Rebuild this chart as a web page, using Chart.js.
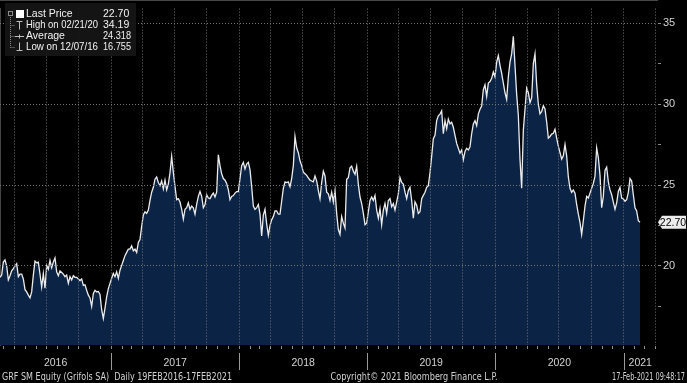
<!DOCTYPE html>
<html>
<head>
<meta charset="utf-8">
<script src="https://cdn.jsdelivr.net/npm/chart.js@4.4.1/dist/chart.umd.min.js"></script>
<style>
  html, body { margin: 0; padding: 0; background: #000; }
  #chart { display: block; }
</style>
</head>
<body>
<canvas id="chart" width="687" height="383"></canvas>
<script>
// GRF SM Equity, daily close (evenly spaced samples)
const startDate = Date.UTC(2016, 1, 19);
const endDate = Date.UTC(2021, 1, 17);

const prices = [
  // 2016
  19.30, 19.44, 20.24, 20.38, 20.0, 19.14, 19.4, 19.7, 19.84, 20.0,
  20.14, 19.34, 19.5, 19.5, 19.2, 18.54, 18.4, 18.2, 18.03, 18.4,
  19.44, 20.3, 20.2, 20.24, 19.5, 18.7, 19.54, 18.63, 20.04, 19.8,
  20.34, 19.9, 20.24, 20.5, 19.64, 19.4, 19.7, 19.6, 19.5, 19.34,
  19.44, 18.93, 19.34, 19.14, 19.4, 19.3, 19.3, 19.2, 19.1, 19.2,
  18.8, 18.84, 18.5, 18.2, 18.03, 17.5, 18.3, 18.5, 18.4, 18.43,
  18.24, 17.3, 16.76,
  // 2017
  17.4, 18.1, 18.6, 18.93, 19.24, 19.54, 19.34, 19.64, 19.24, 19.74,
  20.04, 20.34, 20.64, 20.84, 21.04, 21.04, 21.24, 20.94, 21.04, 20.84,
  21.45, 21.64, 22.45, 23.15, 23.35, 23.25, 23.45, 24.05, 24.56, 24.86,
  25.36, 25.5, 25.16, 24.96, 25.26, 24.76, 25.3, 24.7, 25.06, 25.76,
  26.77, 25.8, 24.9, 24.1, 24.16, 23.95, 23.5, 22.9, 23.5, 23.6,
  23.9, 23.5, 23.7, 23.6, 23.2, 23.8, 24.3, 24.6, 24.3, 23.6,
  23.8, 24.4, 24.2,
  // 2018
  24.16, 24.36, 24.5, 24.26, 24.56, 26.87, 26.2, 25.7, 25.4, 25.3,
  25.1, 24.7, 24.1, 24.3, 24.35, 24.5, 24.6, 24.6, 25.4, 26.2,
  26.4, 26.0, 26.3, 26.4, 25.95, 24.9, 23.7, 23.5, 23.6, 23.8,
  23.2, 21.85, 23.15, 23.5, 22.6, 21.9, 22.5, 22.85, 23.05, 23.4,
  23.4, 23.2, 23.2, 24.0, 24.8, 25.2, 25.15, 25.2, 24.9, 25.4,
  26.2, 28.0, 27.3, 27.0, 26.5, 26.2, 25.8, 25.7, 25.6, 25.45,
  25.3, 25.25, 25.2,
  // 2019
  25.56, 25.26, 24.66, 24.16, 25.16, 25.86, 25.56, 24.56, 24.46, 24.05,
  24.56, 23.96, 24.66, 23.25, 22.25, 21.95, 23.05, 22.65, 22.35, 25.36,
  25.46, 26.06, 26.16, 25.86, 25.66, 26.16, 25.06, 24.26, 23.86, 23.25,
  22.55, 22.65, 23.35, 24.05, 24.26, 24.05, 24.36, 23.45, 22.95, 23.55,
  22.55, 23.45, 23.86, 23.25, 24.05, 24.16, 23.66, 23.86, 23.45, 23.96,
  24.46, 25.46, 25.16, 25.06, 24.56, 24.16, 24.66, 24.86, 24.05, 22.95,
  23.96, 23.75, 23.25,
  // 2019-2020
  23.35, 24.16, 24.36, 24.56, 24.86, 24.96, 25.76, 26.77, 27.87, 28.07,
  28.98, 29.28, 29.38, 29.58, 28.17, 28.98, 28.48, 29.08, 28.78, 28.88,
  28.57, 28.07, 27.57, 27.27, 26.97, 27.17, 26.57, 27.07, 27.27, 27.17,
  27.37, 28.17, 28.78, 28.98, 28.67, 29.38, 29.68, 29.88, 30.89, 31.19,
  30.48, 31.3, 31.39, 31.59, 31.99, 31.69, 32.59, 33.0, 32.4, 31.9,
  31.3, 30.7, 30.29, 31.69, 32.59, 33.1, 34.19, 32.4, 30.6, 29.3,
  26.6, 24.8, 28.4,
  // 2020-2021
  29.68, 30.99, 30.7, 30.09, 30.39, 32.5, 33.1, 31.2, 30.0, 29.4,
  29.55, 29.9, 29.7, 28.9, 27.9, 28.0, 28.15, 28.2, 28.45, 27.9,
  27.4, 27.0, 26.6, 26.8, 27.5, 26.8, 25.5, 24.8, 24.55, 24.7,
  24.5, 23.8, 23.2, 22.7, 21.95, 22.8, 23.7, 24.3, 24.2, 24.5,
  24.8, 25.1, 25.55, 27.3, 26.7, 25.6, 23.6, 24.3, 25.9, 26.1,
  25.2, 24.7, 24.4, 23.95, 23.5, 23.9, 24.6, 24.85, 24.2, 24.15,
  24.0, 24.1, 24.55, 25.4, 25.25, 24.4, 23.6, 23.4, 22.8, 22.70
];

const priceTicks = [17.5, 20, 22.5, 25, 27.5, 30, 32.5, 35];
const yearLabels = ['2016', '2017', '2018', '2019', '2020', '2021'];
const legendLabels = ['Last Price', 'High on 02/21/20', 'Average', 'Low on 12/07/16'];
const legendValues = ['22.70', '34.19', '24.318', '16.755'];
const lastPrice = 22.70;
const footerLeft = 'GRF SM Equity (Grifols SA)  Daily 19FEB2016-17FEB2021';
const footerMid = 'Copyright\u00A9 2021 Bloomberg Finance L.P.';
const footerRight = '17-Feb-2021 09:48:17';

const FONT = '"Liberation Sans", Arial, sans-serif';
const NARROW = '"Liberation Sans Narrow", "DejaVu Sans Condensed", "Liberation Sans", sans-serif';
const TXT = '#d2d2d2';
const GRID = '#737373';

// x scale runs a little past the last close, like the terminal does
const xMax = startDate + (endDate - startDate) * 657 / 640;
const step = (endDate - startDate) / (prices.length - 1);
const points = prices.map((p, i) => ({ x: startDate + i * step, y: p }));

// monthly tick marks, dotted grid only on quarter starts
const monthTicks = [];
const quarterSet = new Set();
for (let y = 2016; y <= 2021; y++) {
  for (let m = 0; m < 12; m++) {
    const t = Date.UTC(y, m, 1);
    if (t > startDate && t < xMax) {
      monthTicks.push(t);
      if (m % 3 === 0) quarterSet.add(t);
    }
  }
}

const overlay = {
  id: 'overlay',
  afterDraw(chart) {
    const ctx = chart.ctx;
    const xs = chart.scales.x, ys = chart.scales.y;
    const area = chart.chartArea;
    ctx.save();

    // year labels + separators
    ctx.font = '10.5px ' + FONT;
    ctx.fillStyle = TXT;
    ctx.textAlign = 'center';
    ctx.textBaseline = 'middle';
    yearLabels.forEach((lab, i) => {
      const yr = +lab;
      const a = Math.max(startDate, Date.UTC(yr, 0, 1));
      const b = Math.min(xMax, Date.UTC(yr + 1, 0, 1));
      const pa = xs.getPixelForValue(a), pb = xs.getPixelForValue(b);
      ctx.fillText(lab, (pa + pb) / 2, 363);
      if (i > 0) {
        const sx = Math.round(pa) + 0.5;
        ctx.strokeStyle = '#9a9a9a';
        ctx.lineWidth = 1;
        ctx.beginPath();
        ctx.moveTo(sx, 353);
        ctx.lineTo(sx, 370);
        ctx.stroke();
      }
    });

    // footer
    ctx.font = '10.5px ' + NARROW;
    ctx.textAlign = 'left';
    ctx.fillText(footerLeft, 2, 377, 230);
    ctx.textAlign = 'center';
    ctx.fillText(footerMid, 414, 377, 167);
    ctx.textAlign = 'right';
    ctx.fillText(footerRight, 685, 377, 73);

    // last price tag on the axis
    const py = ys.getPixelForValue(lastPrice);
    const bx = area.right + 1;
    ctx.fillStyle = '#ececec';
    ctx.beginPath();
    ctx.moveTo(bx, py);
    ctx.lineTo(bx + 4, py - 6.5);
    ctx.lineTo(686, py - 6.5);
    ctx.lineTo(686, py + 6.5);
    ctx.lineTo(bx + 4, py + 6.5);
    ctx.closePath();
    ctx.fill();
    ctx.fillStyle = '#000';
    ctx.font = '10.5px ' + FONT;
    ctx.textAlign = 'center';
    ctx.fillText(lastPrice.toFixed(2), 673, py + 0.5);

    // legend box
    ctx.fillStyle = 'rgba(22,22,22,0.92)';
    ctx.fillRect(5, 3, 131, 53);
    const rows = [14, 25, 36, 47];
    ctx.strokeStyle = '#8a8a8a';
    ctx.setLineDash([1, 1]);
    ctx.beginPath();
    ctx.moveTo(10.5, 17); ctx.lineTo(10.5, 47.5);
    rows.slice(1).forEach(r => { ctx.moveTo(10.5, r + 0.5); ctx.lineTo(15, r + 0.5); });
    ctx.stroke();
    ctx.setLineDash([]);
    ctx.strokeRect(8.5, 11.5, 4, 4);

    ctx.fillStyle = '#ffffff';
    ctx.fillRect(16, 10, 8, 8);
    ctx.strokeStyle = '#bdbdbd';
    ctx.beginPath();
    ctx.moveTo(16.5, 21.5); ctx.lineTo(22.5, 21.5);
    ctx.moveTo(19.5, 21.5); ctx.lineTo(19.5, 29.5);
    ctx.moveTo(15, 36.5); ctx.lineTo(24, 36.5);
    ctx.moveTo(19.5, 34.5); ctx.lineTo(19.5, 38.5);
    ctx.moveTo(19.5, 42.5); ctx.lineTo(19.5, 50.5);
    ctx.moveTo(16.5, 50.5); ctx.lineTo(22.5, 50.5);
    ctx.stroke();

    ctx.font = '10.5px ' + FONT;
    ctx.textAlign = 'left';
    ctx.textBaseline = 'middle';
    ctx.fillStyle = '#f2f2f2';
    legendLabels.forEach((lab, i) => {
      ctx.fillText(lab, 26, rows[i] + 0.5, lab.length > 10 ? 72 : 60);
      ctx.fillText(legendValues[i], 103, rows[i] + 0.5, 28);
    });
    ctx.restore();
  }
};

new Chart(document.getElementById('chart'), {
  type: 'line',
  data: {
    datasets: [{
      data: points,
      borderColor: '#ececec',
      borderWidth: 1.3,
      backgroundColor: 'rgb(11,36,70)',
      fill: 'start',
      pointRadius: 0,
      tension: 0
    }]
  },
  options: {
    responsive: false,
    animation: false,
    layout: { padding: 0 },
    plugins: { legend: { display: false }, tooltip: { enabled: false } },
    scales: {
      x: {
        type: 'linear',
        min: startDate,
        max: xMax,
        afterBuildTicks: s => { s.ticks = monthTicks.map(v => ({ value: v })); },
        afterFit: s => { s.height = 38; },
        ticks: { display: false },
        grid: {
          z: 1,
          color: c => (c.tick && quarterSet.has(c.tick.value)) ? GRID : 'rgba(0,0,0,0)',
          tickColor: '#8c8c8c',
          tickLength: 4
        },
        border: { display: true, color: '#8c8c8c', dash: [1, 2] }
      },
      y: {
        position: 'right',
        min: 15.12,
        max: 35.9,
        afterBuildTicks: s => { s.ticks = priceTicks.map(v => ({ value: v })); },
        afterFit: s => { s.width = 30; },
        ticks: {
          color: TXT,
          padding: 2,
          font: { size: 11, family: FONT },
          callback: v => (v % 5 === 0 ? String(v) : '')
        },
        grid: {
          z: 1,
          color: c => (c.tick && c.tick.value % 5 === 0) ? GRID : 'rgba(0,0,0,0)',
          tickColor: '#8c8c8c',
          tickLength: 4
        },
        border: { display: true, color: '#8c8c8c', dash: [1, 2] }
      }
    }
  },
  plugins: [overlay]
});
</script>
</body>
</html>
